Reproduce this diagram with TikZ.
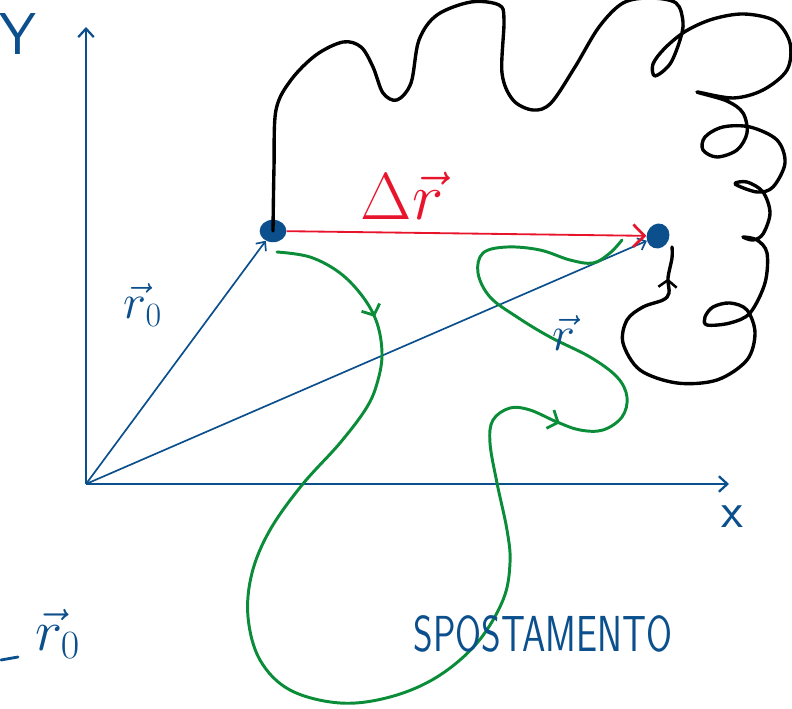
\documentclass[tikz,border=0pt]{standalone}
\usepackage{graphicx}
\usepackage{tikz}
\usetikzlibrary{arrows.meta, positioning, shapes.geometric, decorations.markings}
\definecolor{penblue}{HTML}{0B4F8C}
\definecolor{pengreen}{HTML}{0A8C38}
\definecolor{penred}{HTML}{E8142C}

\begin{document}
\begin{tikzpicture}[
        x=0.025cm, y=-0.025cm,
        axis/.style={penblue, line width=1.6pt, -{Straight Barb[length=6pt, width=11pt, line width=1.6pt]}},
        vec/.style={penblue, line width=1.2pt, -{Straight Barb[length=5pt, width=9pt, line width=1.2pt]}},
        disp/.style={penred, line width=1.3pt, -{Straight Barb[length=8pt, width=16pt, line width=1.9pt]}},
        dot/.style={ellipse, fill=penblue, inner sep=0pt, minimum width=19pt, minimum height=16pt},
        traj/.style={black, line width=2.4pt, line cap=round, line join=round},
        walk/.style={pengreen, line width=2.1pt, line cap=round, line join=round},
        lbl/.style={text=penblue, inner sep=0pt, font=\fontsize{24}{24}\selectfont}
    ]
        \useasboundingbox (0,0) rectangle (792,709);

        % Nodes
        \coordinate (O) at (86,484);
        \coordinate (yend) at (86,27);
        \coordinate (xend) at (729,484);
        \node[dot] (P0) at (273,231) {};
        \node[dot, minimum width=16pt, minimum height=18pt, rotate=-20] (P) at (658,236) {};

        % Axes and vectors
        \draw[axis] (O) -- (yend);
        \draw[axis] (O) -- (xend);
        \draw[vec] (O) -- (P0);
        \draw[vec] (O) -- (P);
        \draw[disp] (P0) -- (P);

        % Green path
        \draw[walk, postaction={decorate}, decoration={markings,
                mark=at position 3.1cm with {\arrow{Straight Barb[length=6pt, width=14pt, line width=2pt]}},
                mark=at position 26.7cm with {\arrow{Straight Barb[length=6pt, width=14pt, line width=2pt]}}}]
            plot[smooth, tension=0.6] coordinates {(277,252) (310,257) (340,273) (363,297) (377,323) (382,353)
                (378,380) (367,407) (340,443) (302,485) (270,530) (252,573) (248,617) (260,660) (290,690)
                (340,703) (390,697) (437,677) (477,643) (503,600) (510,563) (507,530) (497,483) (490,443)
                (493,420) (510,408) (530,410) (557,422) (580,430) (603,430) (622,417) (627,397) (617,377)
                (590,357) (550,337) (517,317) (490,297) (478,273) (483,253) (507,247) (540,250) (570,260)
                (593,263) (610,253) (622,240)};

        % Black path
        \draw[traj, postaction={decorate}, decoration={markings,
                mark=at position -0.8cm with {\arrow{Straight Barb[length=5pt, width=13pt, line width=1.8pt]}}}]
            plot[smooth, tension=0.55] coordinates {(P0.center) (274,167) (276,110) (291,80) (316,55) (343,42)
                (361,47) (373,67) (383,93) (397,100) (411,83) (419,40) (437,15) (471,2) (499,5) (504,20)
                (502,73) (513,100) (533,110) (551,103) (575,67) (599,27) (623,3) (650,-2) (676,3) (683,22)
                (680,40) (670,64) (655,76) (653,64) (665,48) (686,31) (713,19) (744,14) (775,21) (790,43)
                (787,70) (763,90) (733,98) (697,92) (727,101) (743,113) (747,133) (737,150) (717,157)
                (703,150) (705,137) (723,127) (750,127) (777,140) (785,163) (773,187) (757,192) (735,184)
                (747,182) (763,192) (770,213) (763,234) (753,240) (743,237) (757,240) (767,253) (765,283)
                (750,313) (730,323) (707,325) (705,317) (713,307) (730,303) (747,310) (755,333) (747,360)
                (717,380) (677,383) (640,370) (623,343) (627,320) (643,307) (663,300) (669,293) (668,278)
                (672,258) (672,247)};

        % Labels
        \node[lbl, font=\fontsize{42}{42}\selectfont\sffamily] (ylab) at (18,34) {Y};
        \node[lbl, font=\fontsize{36}{36}\selectfont\sffamily] (xlab) at (732,517) {x};
        \node[lbl] (r0lab) at (143,305) {\scalebox{1.4}{$\vec{r}_0$}};
        \node[lbl] (rlab) at (564,333) {\scalebox{1.4}{$\vec{r}$}};
        \node[lbl, text=penred] (drlab) at (402,196) {\scalebox{1.9}{$\Delta\vec{r}$}};
        \node[lbl] (r0note) at (58,634) {\scalebox{1.65}{$\vec{r}_0$}};
        \node[lbl, font=\fontsize{36}{36}\selectfont\sffamily] (splab) at (543,634) {\scalebox{0.74}[1]{SPOSTAMENTO}};
        \draw[penblue, line width=2pt, line cap=round] (1,660) -- (18,657);
    \end{tikzpicture}
\end{document}
